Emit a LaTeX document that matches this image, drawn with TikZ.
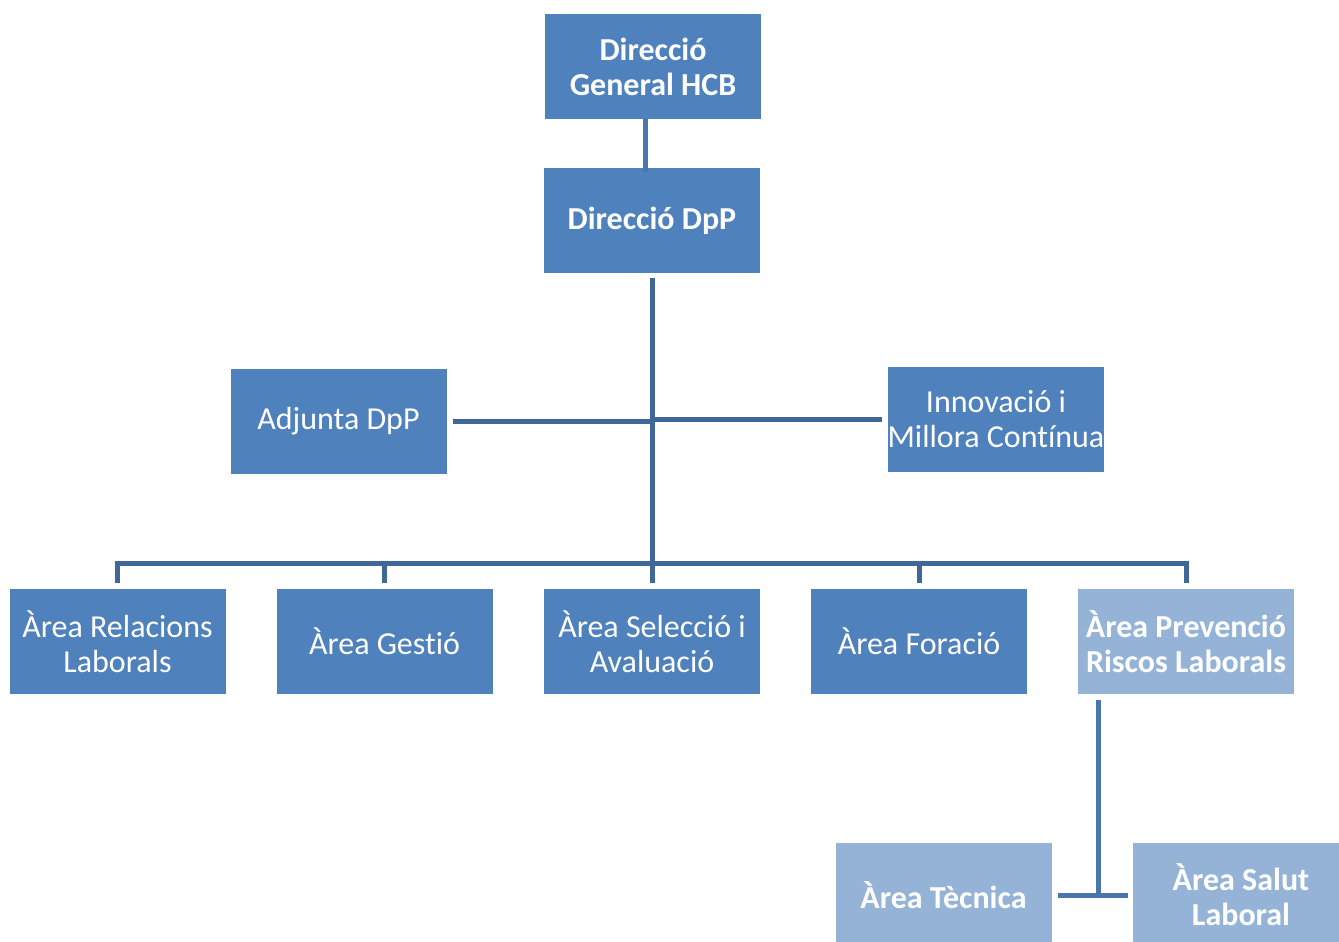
\documentclass[tikz,border=0pt]{standalone}
\usepackage{fontspec}
\setmainfont{Carlito}[Ligatures=NoCommon]
\definecolor{boxdark}{HTML}{4F81BD}
\definecolor{boxlight}{HTML}{95B3D7}
\definecolor{linedark}{HTML}{3F6898}
\definecolor{linemid}{HTML}{4A76AE}
\begin{document}
\begin{tikzpicture}[x=1pt,y=-1pt,
  box/.style={fill=boxdark,text=white,minimum width=216pt,minimum height=105pt,
    inner sep=0pt,align=center,font=\fontsize{32}{35}\selectfont},
  boxb/.style={box,font=\fontsize{32}{35}\selectfont\bfseries},
  lbox/.style={boxb,fill=boxlight},
  conn/.style={draw=linedark,line width=5pt},
  connm/.style={draw=linemid,line width=5pt}]
\clip (0,0) rectangle (1339,942);
\useasboundingbox (0,0) rectangle (1339,942);
\node[boxb] (dg) at (653,66.5) {Direcció\\General HCB};
\node[boxb] (dp) at (652,220.5) {Direcció DpP};
\node[box] (adj) at (338.5,421) {Adjunta DpP};
\node[box] (inn) at (996,419) {Innovació i\\Millora Contínua};
\node[box] (rel) at (117.5,641.5) {Àrea Relacions\\Laborals};
\node[box] (ges) at (384.5,641.5) {Àrea Gestió};
\node[box] (sel) at (652,641.5) {Àrea Selecció i\\Avaluació};
\node[box] (for) at (919,641.5) {Àrea Foració};
\node[lbox] (prev) at (1186,641.5) {Àrea Prevenció\\Riscos Laborals};
\node[lbox] (tec) at (943.5,895) {Àrea Tècnica};
\node[lbox] (sal) at (1241,895) {Àrea Salut\\Laboral};
\coordinate (bar) at (652,563);
\coordinate (pj) at (1098,895);
% connectors
\draw[connm] ([xshift=-8pt]dg.south) -- ([xshift=-7pt,yshift=-4pt]dp.north);
\draw[conn] ([yshift=-5pt]dp.south) -- ([yshift=6pt]sel.north);
\draw[conn] ([xshift=6pt]adj.east) -- (adj.east -| dp.south);
\draw[conn] ([xshift=-5pt]inn.west) -- (inn.west -| dp.south);
\draw[conn] ([yshift=6pt]rel.north) |- (bar) -| ([yshift=6pt]prev.north);
\draw[conn] ([yshift=6pt]ges.north) -- (ges.north |- bar);
\draw[conn] ([yshift=6pt]for.north) -- (for.north |- bar);
\draw[connm] (prev.south -| pj) ++(0,6) -- (pj);
\draw[connm] ([xshift=6pt]tec.east) -- (pj) -- ([xshift=-5pt]sal.west);
\end{tikzpicture}
\end{document}
